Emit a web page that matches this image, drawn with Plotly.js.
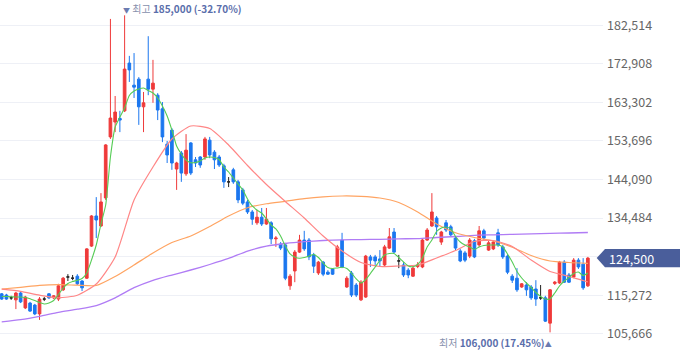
<!DOCTYPE html>
<html><head><meta charset="utf-8">
<script src="https://cdn.plot.ly/plotly-3.0.1.min.js"></script>
<style>html,body{margin:0;padding:0;background:#fff;}#chart{width:680px;height:358px;}</style>
</head><body><div id="chart"></div>
<script>
// Daily OHLC (125 sessions)
const open = [115600,115300,114600,114100,115800,112100,113300,112800,110600,114300,
115600,114600,114300,116600,119800,119500,120000,118800,119500,127500,
135000,132500,139500,154700,158400,159300,161200,173100,167600,169100,
162200,169100,166600,165100,161700,152900,156400,146700,150700,145500,
153200,149000,149700,149700,153900,150900,149700,147500,143500,146500,
143500,141500,138500,136000,133300,134700,133000,133300,129300,128000,
127800,117600,121300,126000,129000,129000,125300,120800,123500,121000,
121800,122500,129000,117300,120800,117800,114100,114800,124800,124800,
124300,122800,127000,131000,123800,122800,121500,120000,122400,122300,
129000,132500,134500,128500,133300,132300,129500,126300,125800,125000,
128800,127800,131300,126500,126800,130800,127300,125000,120000,119500,
117300,117800,117300,116800,114600,114600,108300,118200,118300,123500,
120300,119800,124000,123000,117600];
const high = [115800,115600,115100,116100,116100,115100,113600,113100,114800,114800,
115800,115300,118100,119800,120500,120300,120500,119000,127000,135200,
139700,140700,152900,184100,164900,161200,185000,174900,175600,169600,
165900,179800,173900,165600,163400,153700,156900,148500,151200,155400,
153400,149700,149900,154700,154700,151400,150200,148000,144700,147000,
144000,142000,139000,136500,136500,137000,137000,133700,130000,128500,
128300,120500,126500,130300,131300,129500,125800,123800,123800,121500,
122000,127800,130800,120000,121300,118300,119000,125300,125300,125300,
126500,127800,132000,132000,125300,123500,122000,122500,123500,129500,
132000,140700,135000,131300,134000,132800,130000,126800,126300,129500,
129300,132500,131800,128800,129000,131800,127800,125500,120500,122000,
118300,118500,117800,119000,117800,115100,116800,118800,123800,124000,
120800,124500,124500,124500,124800];
const low = [114100,114100,114100,111800,113300,111800,111100,110300,109100,113800,
114300,114300,113800,116300,118800,119000,117800,116300,119300,127300,
129500,132300,139000,154200,155900,155900,160900,168400,164400,157700,
155900,165100,163200,158900,153400,148200,146500,141500,143500,145000,
145200,147200,147000,149000,149400,146700,147200,142000,142200,143000,
138200,137700,135500,132800,132800,132500,132800,128000,127300,126500,
119000,116600,118500,125800,126300,124000,120800,120300,120000,120300,
120300,122300,122000,117100,114800,114800,113800,114600,122300,122800,
122500,122500,126800,125800,122000,119800,119500,119800,122000,122000,
128800,132300,130300,127800,131000,129800,126500,123500,123500,124500,
124500,127300,129000,126300,126500,127300,124300,120500,118300,116100,
117100,115100,114100,112600,114100,108600,106000,117800,118100,118300,
118300,119500,121800,116600,117300];
const close = [114300,114300,114600,115800,113600,114800,111300,110600,114300,114300,
114600,115100,117600,119500,119800,119500,118100,117100,126800,135000,
134000,138500,152700,159400,160900,158900,171600,171400,167100,162200,
163200,166600,168100,161400,154700,150200,148200,148200,145700,151400,
145700,148200,147700,154200,150200,149000,147700,143500,143500,143500,
139000,138200,136000,134200,134700,133000,134200,129300,129500,127000,
119500,120000,126000,129000,126800,124800,122500,123500,120500,120500,
120500,127300,122300,119500,115300,115300,118500,125000,124000,123800,
123800,127300,129800,126000,123800,120300,120300,122000,122800,129000,
131500,136000,132300,131000,131500,130300,127000,123800,124000,129000,
124800,131300,129500,128300,128500,127800,124800,121000,119000,116600,
118100,116600,114600,114300,114600,108800,116600,118500,123500,118500,
118500,124000,122300,117100,124500];

// Moving averages
const ma5 = [114940,114940,114890,114810,114810,114690,114390,113940,113440,113070,
113320,113940,115430,117050,118180,118670,118970,119420,120790,124030,
127770,133000,137740,149700,157170,159660,161910,165020,166140,166640,
166890,166270,165640,164400,162400,159910,156430,152440,150440,148950,
148280,148330,148700,149450,149700,149570,149070,147210,145960,144460,
142970,141470,139230,137490,136490,135740,134250,132750,131760,130010,
127520,125530,124780,124460,124650,125030,125400,124650,123280,122160,
121910,122040,122210,121910,120790,119300,118300,119170,120670,122290,
123910,125280,125650,125650,124650,123530,122540,122360,122910,124530,
127270,129020,131130,132010,132250,131760,129890,128520,127770,127270,
126650,127270,127640,127770,127770,127770,127270,125530,123530,121170,
119550,118300,117180,115930,114940,114310,114310,115810,117550,118800,
119670,120670,121040,120170,120790];
// longer averages sampled every 4th session
const ma20 = [116760,116210,115260,114610,115260,118050,124780,138980,147210,154180,
157420,156800,152690,147580,142840,138610,134500,130010,126270,123410,
122410,122540,122790,124530,126400,128640,128890,127400,124030,121170,
119970,118550];
const ma60 = [116800,117230,117700,117880,117750,117680,119920,122790,125780,128390,
130010,132380,135000,137060,138040,138660,139330,139780,139980,139900,
139480,138360,135990,133000,130830,129640,128770,127200,125150,123780,
123410,123210];
const ma120 = [108630,109180,110000,111000,111770,112690,114610,117130,118970,120290,
121540,122910,124410,126270,127470,128140,128590,128890,129070,129120,
129190,129310,129360,129640,129890,130190,130310,130440,130560,130680,
130760,130880];

const yTicks = [105666,115272,124878,134484,144090,153696,163302,172908,182514];

const RED = '#ef3a3a', BLUE = '#1b77ef';
const days = open.map((_, i) => i);
const sampleDays = ma20.map((_, k) => k * 4);
const isDoji = days.map(i => open[i] === close[i]);
const pick = (arr, want) => days.filter(i => isDoji[i] === want).map(i => arr[i]);

const hiIdx = high.indexOf(Math.max(...high));
const loIdx = low.indexOf(Math.min(...low));
const last = close[close.length - 1];
const fmt = v => v.toLocaleString('en-US');
const pct = v => ((last / v - 1) * 100).toFixed(2) + '%';

const traces = [
  {type:'candlestick', x:pick(days,false), open:pick(open,false), high:pick(high,false), low:pick(low,false), close:pick(close,false),
   increasing:{line:{color:RED,width:1}, fillcolor:RED}, decreasing:{line:{color:BLUE,width:1}, fillcolor:BLUE},
   whiskerwidth:0, hoverinfo:'skip'},
  {type:'candlestick', x:pick(days,true), open:pick(open,true), high:pick(high,true), low:pick(low,true), close:pick(close,true),
   increasing:{line:{color:'#222',width:1}, fillcolor:'#222'}, decreasing:{line:{color:'#222',width:1}, fillcolor:'#222'},
   whiskerwidth:0, hoverinfo:'skip'},
  {type:'scatter', mode:'lines', x:sampleDays, y:ma120, line:{color:'#b07cf5', width:1.3, shape:'spline', smoothing:0.6}, hoverinfo:'skip'},
  {type:'scatter', mode:'lines', x:sampleDays, y:ma60, line:{color:'#ffa462', width:1.2, shape:'spline', smoothing:0.6}, hoverinfo:'skip'},
  {type:'scatter', mode:'lines', x:sampleDays, y:ma20, line:{color:'#ff8686', width:1.2, shape:'spline', smoothing:0.6}, hoverinfo:'skip'},
  {type:'scatter', mode:'lines', x:days, y:ma5, line:{color:'#55cc55', width:1.1, shape:'spline', smoothing:0.5}, hoverinfo:'skip'}
];

const FONT = '"Noto Sans CJK KR", "Noto Sans", sans-serif';
const TRI = 'color:#6b7bb0;font-size:7px';
const layout = {
  width:680, height:358,
  margin:{l:0, r:77, t:0, b:0, pad:0},
  paper_bgcolor:'#fff', plot_bgcolor:'#fff',
  showlegend:false,
  boxgap:0.25, boxgroupgap:0.25,
  xaxis:{type:'linear', range:[-0.36,127.2], visible:false, rangeslider:{visible:false}, fixedrange:true},
  yaxis:{side:'right', range:[99612,188818], tickmode:'array', tickvals:yTicks,
         ticktext:yTicks.map(v => v === 124878 ? '' : fmt(v)),
         showgrid:true, gridcolor:'#eef0f6', gridwidth:1, zeroline:false, showline:false, ticks:'',
         ticklabelstandoff:3,
         tickfont:{family:FONT, size:12.5, color:'#666'}, fixedrange:true},
  shapes:[
    {type:'path', xref:'paper', yref:'y', xsizemode:'pixel', ysizemode:'pixel', xanchor:1, yanchor:last,
     path:'M -6.3 0 L 2 9.2 L 77 9.2 L 77 -9.2 L 2 -9.2 Z', fillcolor:'#4a5e9b', line:{width:0}, layer:'above'}
  ],
  annotations:[
    {xref:'x', yref:'y', x:hiIdx, y:high[hiIdx], xanchor:'left', yanchor:'middle', xshift:-4, yshift:6.5, showarrow:false,
     text:'<span style="' + TRI + '">▼</span> <span style="color:#8790ad">최고</span> <b>' + fmt(high[hiIdx]) + ' (' + pct(high[hiIdx]) + ')</b>',
     font:{family:FONT, size:10, color:'#5a6eab'}},
    {xref:'x', yref:'y', x:loIdx, y:low[loIdx], xanchor:'right', yanchor:'middle', xshift:4, yshift:-10, showarrow:false,
     text:'<span style="color:#8790ad">최저</span> <b>' + fmt(low[loIdx]) + ' (' + pct(low[loIdx]) + ')</b><span style="' + TRI + '">▲</span>',
     font:{family:FONT, size:10, color:'#5a6eab'}},
    {xref:'paper', yref:'y', x:1, y:last, xanchor:'left', yanchor:'middle', xshift:4, showarrow:false,
     text:fmt(last), font:{family:FONT, size:12.5, color:'#ffffff'}}
  ]
};

Plotly.newPlot('chart', traces, layout, {staticPlot:true, displayModeBar:false});
</script>
</body></html>
